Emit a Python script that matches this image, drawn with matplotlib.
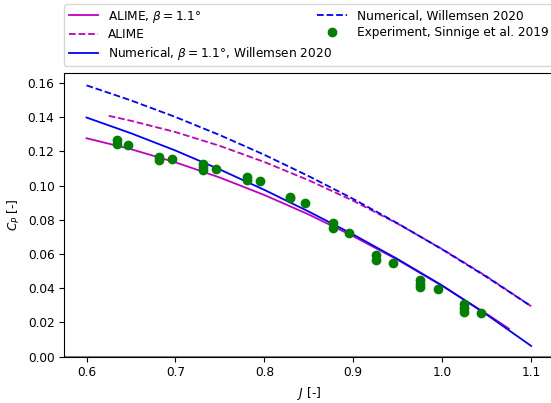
import numpy as np
import matplotlib
matplotlib.use("Agg")
import matplotlib.pyplot as plt

#? Curves
j_alime_beta = [0.60, 0.65, 0.70, 0.75, 0.80, 0.85, 0.90, 0.95, 1.00, 1.05, 1.075]
cp_alime_beta = [0.1277, 0.1213, 0.1136, 0.1047, 0.0945, 0.0831, 0.0704, 0.0566, 0.0414, 0.0250, 0.0164]

j_alime = [0.625, 0.65, 0.70, 0.75, 0.80, 0.85, 0.90, 0.95, 1.00, 1.05, 1.10]
cp_alime = [0.1408, 0.1379, 0.1313, 0.1232, 0.1138, 0.1031, 0.0911, 0.0777, 0.0629, 0.0469, 0.0295]

j_num_beta = [0.60, 0.65, 0.70, 0.75, 0.80, 0.85, 0.90, 0.95, 1.00, 1.05, 1.10]
cp_num_beta = [0.1398, 0.1306, 0.1205, 0.1094, 0.0975, 0.0848, 0.0714, 0.0570, 0.0416, 0.0246, 0.0063]

j_num = [0.60, 0.65, 0.70, 0.75, 0.80, 0.85, 0.90, 0.95, 1.00, 1.05, 1.10]
cp_num = [0.1586, 0.1498, 0.1401, 0.1295, 0.1180, 0.1055, 0.0922, 0.0779, 0.0627, 0.0466, 0.0295]

#? Experiment points
j_exp = [0.634, 0.634, 0.647, 0.682, 0.682, 0.696, 0.731, 0.731, 0.731, 0.746,
         0.780, 0.780, 0.795, 0.829, 0.829, 0.846, 0.877, 0.877, 0.895,
         0.926, 0.926, 0.945, 0.975, 0.975, 0.975, 0.995, 1.024, 1.024, 1.024, 1.044]
cp_exp = [0.1265, 0.1245, 0.1240, 0.1170, 0.1150, 0.1158, 0.1125, 0.1110, 0.1093, 0.1098,
          0.1053, 0.1035, 0.1029, 0.0935, 0.0925, 0.0897, 0.0782, 0.0752, 0.0722,
          0.0593, 0.0565, 0.0545, 0.0450, 0.0425, 0.0405, 0.0394, 0.0310, 0.0283, 0.0262, 0.0257]

fs = 8.7
plt.rcParams['font.size'] = fs
plt.rcParams['mathtext.fontset'] = 'dejavusans'

fig = plt.figure(figsize=(5.51, 4.03), dpi=100)
ax = fig.add_axes([0.1167, 0.1149, 0.8876, 0.7047])

lw = 1.3
ax.plot(j_alime_beta, cp_alime_beta, '-', color='m', lw=lw, label=r'ALIME, $\beta = 1.1°$')
ax.plot(j_alime, cp_alime, '--', color='m', lw=lw, label='ALIME')
ax.plot(j_num_beta, cp_num_beta, '-', color='b', lw=lw, label=r'Numerical, $\beta = 1.1°$, Willemsen 2020')
ax.plot(j_num, cp_num, '--', color='b', lw=lw, label='Numerical, Willemsen 2020')
ax.plot(j_exp, cp_exp, 'o', color='green', ms=6, label='Experiment, Sinnige et al. 2019')
ax.axhline(0, color='gray', lw=2.2)
ax.spines['right'].set_visible(False)  # sits outside the crop anyway

ax.set_xlim(0.575, 1.125)
ax.set_ylim(0, 0.166)
ax.set_xticks([0.6, 0.7, 0.8, 0.9, 1.0, 1.1])
ax.set_yticks(np.arange(0, 0.17, 0.02))
ax.yaxis.set_major_formatter(matplotlib.ticker.FormatStrFormatter('%.2f'))
ax.tick_params(labelsize=fs, length=3.5)

ax.set_xlabel('$J$ [-]', fontsize=fs)
ax.set_ylabel('$C_P$ [-]', fontsize=fs)

ax.legend(loc='lower left', bbox_to_anchor=(0, 1.023), ncol=2, fontsize=fs,
          borderaxespad=0, handlelength=2.45, columnspacing=-1.2,
          labelspacing=0.3, borderpad=0.35)

fig.savefig('out.png', dpi=100)
